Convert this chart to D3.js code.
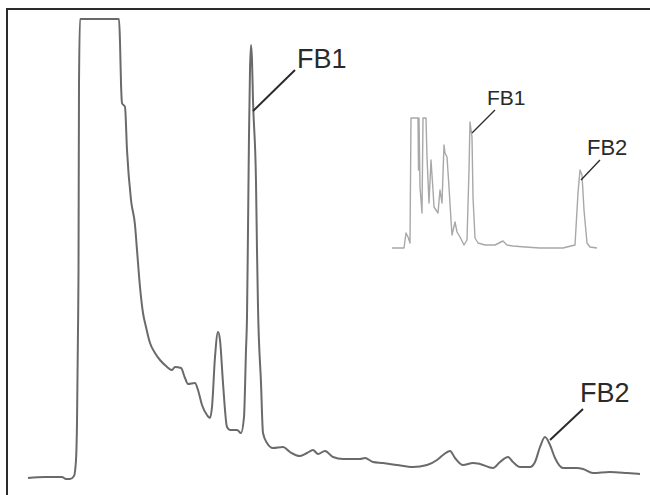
<!DOCTYPE html>
<html>
<head>
<meta charset="utf-8">
<script src="https://cdn.jsdelivr.net/npm/d3@7"></script>
<style>
    body { margin: 0; background: #fff; }
    svg { display: block; }
</style>
</head>
<body>
<div id="chart"></div>
<script>
// main chromatogram (retention units, detector signal)
const mainTime = [0, 17, 34, 38, 42, 46, 48, 49, 50, 50.5, 51, 52, 91, 92, 93, 94, 97, 99, 103, 107,
    109, 112, 115, 118, 122, 127, 132, 138, 144, 147, 153, 157, 160, 167, 170, 174, 179, 182, 184, 187,
    190, 192, 195, 199, 202, 209, 213, 216, 218, 219, 220, 221, 222, 223, 224, 225, 228, 229, 230, 233,
    235, 239, 245, 255, 262, 272, 279, 285, 290, 297, 305, 315, 332, 337, 345, 355, 369, 385, 399, 409,
    415, 422, 427, 435, 445, 452, 465, 472, 480, 485, 492, 502, 507, 512, 517, 522, 527, 535, 549, 555,
    565, 582, 599, 612];
const mainSignal = [0, 1, 1, -1, -1, 2, 18, 55, 148, 205, 393, 459, 459, 436, 395, 375, 371, 328, 278, 253,
    228, 191, 165, 151, 135, 125, 118, 112, 108, 111, 110, 100, 94, 95, 88, 73, 63, 60, 71, 121,
    146, 138, 95, 51, 48, 48, 45, 61, 128, 161, 248, 343, 408, 433, 418, 378, 296, 228, 171, 95,
    45, 35, 30, 31, 26, 22, 25, 28, 24, 27, 21, 19, 19, 20, 16, 15, 13, 11, 13, 18,
    23, 27, 20, 13, 15, 14, 10, 16, 21, 16, 11, 11, 16, 31, 41, 33, 20, 10, 10, 9,
    5, 6, 5, 4];

// inset chromatogram
const insetTime = [0, 12, 14, 16, 18, 19, 26, 26.5, 27, 28, 30, 31, 34, 35, 37, 39, 41, 42, 44, 46,
    48, 50, 52, 53, 55, 57, 59, 60, 63, 65, 68, 72, 75, 77, 78, 80, 81, 83, 86, 93,
    103, 111, 115, 121, 133, 148, 171, 183, 186, 188, 190, 192, 195, 198, 205];
const insetSignal = [0, 0, 15, 11, 5, 130, 130, 78, 130, 61, 35, 130, 130, 91, 45, 88, 58, 41, 38, 35,
    58, 45, 103, 95, 91, 61, 28, 13, 26, 16, 11, 3, 8, 78, 126, 111, 51, 10, 5, 3,
    3, 7, 3, 2, 1, 0, 0, 3, 55, 78, 73, 38, 5, 1, 0];

// peak labels: name, anchor time, anchor signal
const mainLabels = ["FB1", "FB2"];
const mainLabelTime = [225, 522];
const mainLabelSignal = [367, 38];
const insetLabels = ["FB1", "FB2"];
const insetLabelTime = [80, 189];
const insetLabelSignal = [115, 68];

const width = 650, height = 495;

const svg = d3.select("#chart").append("svg")
    .attr("width", width)
    .attr("height", height);

// frame (only top and left edges fall inside the picture)
svg.append("path")
    .attr("d", `M7,${height} V9 H${width}`)
    .attr("fill", "none")
    .attr("stroke", "#2b2b2b")
    .attr("stroke-width", 2);

// scales
const x = d3.scaleLinear().domain([0, 612]).range([28, 640]);
const y = d3.scaleLinear().domain([0, 460]).range([478, 18]);

const xi = d3.scaleLinear().domain([0, 205]).range([392, 597]);
const yi = d3.scaleLinear().domain([0, 130]).range([248, 118]);

const mainData = mainTime.map((t, i) => ({t: t, v: mainSignal[i]}));
const insetData = insetTime.map((t, i) => ({t: t, v: insetSignal[i]}));

const mainLine = d3.line()
    .x(d => x(d.t))
    .y(d => y(d.v))
    .curve(d3.curveMonotoneX);

const insetLine = d3.line()
    .x(d => xi(d.t))
    .y(d => yi(d.v));

// inset trace
svg.append("path")
    .datum(insetData)
    .attr("fill", "none")
    .attr("stroke", "#a8a8a8")
    .attr("stroke-width", 1.4)
    .attr("stroke-linejoin", "round")
    .attr("d", insetLine);

// main trace
svg.append("path")
    .datum(mainData)
    .attr("fill", "none")
    .attr("stroke", "#6a6a6a")
    .attr("stroke-width", 2)
    .attr("stroke-linejoin", "round")
    .attr("d", mainLine);

// labels with leader lines
function addLabel(name, px, py, dx, dy, tx, ty, size) {
    svg.append("line")
        .attr("x1", px)
        .attr("y1", py)
        .attr("x2", px + dx)
        .attr("y2", py + dy)
        .attr("stroke", "#2a2a2a")
        .attr("stroke-width", size > 24 ? 2 : 1.3);

    svg.append("text")
        .attr("x", px + tx)
        .attr("y", py + ty)
        .attr("fill", "#2a2a2a")
        .style("font-family", "'Liberation Sans', Arial, sans-serif")
        .style("font-size", size + "px")
        .text(name);
}

addLabel(mainLabels[0], x(mainLabelTime[0]), y(mainLabelSignal[0]), 42, -41, 44, -43, 27);
addLabel(mainLabels[1], x(mainLabelTime[1]), y(mainLabelSignal[1]), 33, -31, 30, -38, 27);
addLabel(insetLabels[0], xi(insetLabelTime[0]), yi(insetLabelSignal[0]), 23, -23, 15, -28, 21);
addLabel(insetLabels[1], xi(insetLabelTime[1]), yi(insetLabelSignal[1]), 19, -20, 6, -25, 22);
</script>
</body>
</html>
